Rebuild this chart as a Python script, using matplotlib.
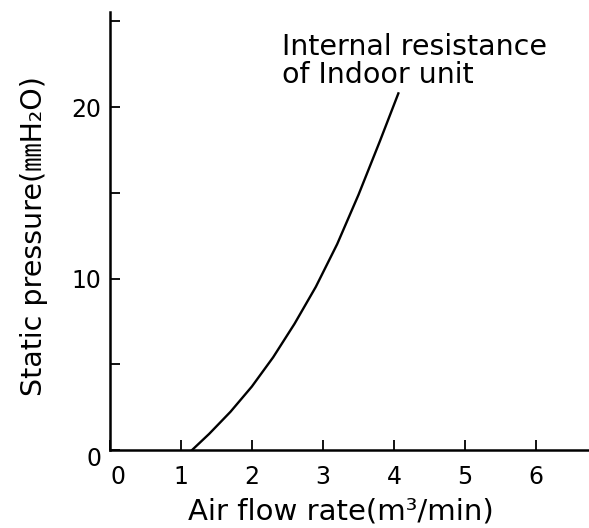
import numpy as np
import matplotlib.pyplot as plt
import matplotlib.transforms as mtransforms

# --- Curve data: internal resistance of indoor unit ---
air_flow = [1.16, 1.4, 1.7, 2.0, 2.3, 2.6, 2.9, 3.2, 3.5, 3.8, 4.06]
static_pressure = [0.0, 0.94, 2.23, 3.70, 5.41, 7.36, 9.52, 12.01, 14.89,
                   18.01, 20.8]

x_ticks = [0, 1, 2, 3, 4, 5, 6]
y_major = [0, 10, 20]
y_minor = [5, 15, 25]

curve_label = "Internal resistance\nof Indoor unit"
x_title = "Air flow rate(m³/min)"
y_title = "Static pressure(㎜H₂O)"

FONTS = ["DejaVu Sans", "Noto Sans CJK JP"]
plt.rcParams["font.family"] = FONTS


def make_chart():
    fig = plt.figure(figsize=(5.89, 5.28), dpi=100)
    ax = fig.add_axes([0.186, 0.1477, 0.814, 0.830])

    ax.plot(air_flow, static_pressure, color="black", lw=1.7,
            solid_joinstyle="round")

    ax.set_xlim(0, 6.74)
    ax.set_ylim(0, 25.56)

    for side in ("top", "right"):
        ax.spines[side].set_visible(False)
    for side in ("left", "bottom"):
        ax.spines[side].set_linewidth(1.8)

    ax.set_xticks(x_ticks)
    ax.set_yticks(y_major)
    ax.set_yticks(y_minor, minor=True)
    ax.tick_params(axis="both", which="both", direction="in", length=7,
                   width=1.3, labelsize=17)
    ax.tick_params(axis="x", pad=11)
    ax.tick_params(axis="y", pad=6)

    # nudge the shared "0" labels apart at the origin
    ax.get_xticklabels()[0].set_transform(
        ax.get_xticklabels()[0].get_transform()
        + mtransforms.ScaledTranslation(8 / 100, 0, fig.dpi_scale_trans))
    ax.get_yticklabels()[0].set_transform(
        ax.get_yticklabels()[0].get_transform()
        + mtransforms.ScaledTranslation(0, -6 / 100, fig.dpi_scale_trans))

    ax.set_xlabel(x_title, fontsize=21)
    ax.xaxis.set_label_coords(0.483, -0.108)
    ax.set_ylabel(y_title, fontsize=20.5, labelpad=17)
    ax.yaxis.label.set_y(0.488)

    ax.text(2.43, 24.3, curve_label, fontsize=20.5, va="top", ha="left",
            linespacing=1.0)

    fig.savefig("out.png", dpi=100)


if __name__ == "__main__":
    make_chart()
